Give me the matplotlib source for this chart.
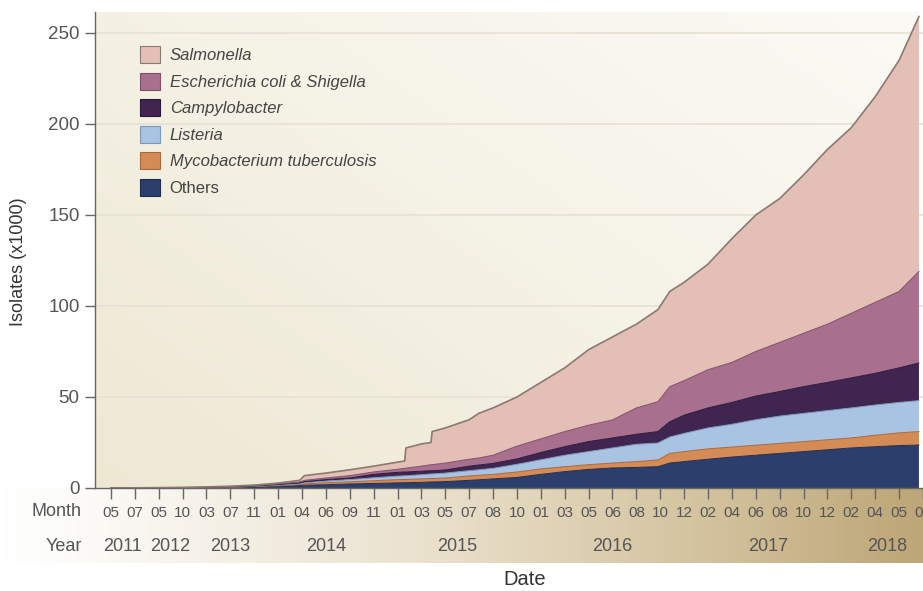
import numpy as np
import matplotlib
matplotlib.use("Agg")
import matplotlib.pyplot as plt
from matplotlib.patches import Patch
from matplotlib.colors import LinearSegmentedColormap

plt.rcParams['font.family'] = ['Liberation Sans', 'DejaVu Sans']

# position along the month axis (one unit = one labelled tick)
pos = [0, 1, 2, 3, 4, 5, 6, 7, 7.9, 8.1, 9, 10, 11, 12, 12.3, 12.35, 13, 13.4, 13.45,
       14, 15, 15.4, 16, 17, 18, 19, 20, 21, 22, 22.9, 23.4, 24, 25, 26, 27, 28, 29,
       30, 31, 32, 33, 33.83]

# isolates (x1000) per group
others = [0, 0.02, 0.05, 0.1, 0.2, 0.35, 0.6, 1.0, 1.4, 1.5, 1.8, 2.2, 2.5, 2.8, 2.9, 2.9,
          3.1, 3.3, 3.3, 3.5, 4.2, 4.5, 5.0, 5.8, 7.5, 9.0, 10.2, 11.0, 11.3, 11.7, 13.7,
          14.5, 15.8, 17.0, 18.0, 19.0, 20.0, 21.0, 22.0, 22.7, 23.3, 23.6]
myco = [0, 0.01, 0.02, 0.02, 0.05, 0.1, 0.15, 0.3, 0.4, 0.8, 1.1, 1.2, 1.5, 1.8, 1.8, 1.8,
        1.9, 1.9, 1.9, 2.0, 2.4, 2.5, 2.5, 3.0, 3.0, 2.7, 2.6, 2.7, 3.2, 3.7, 5.3,
        5.5, 5.7, 5.5, 5.5, 5.5, 5.5, 5.5, 5.5, 6.3, 7.0, 7.4]
listeria = [0, 0.01, 0.02, 0.03, 0.05, 0.1, 0.15, 0.3, 0.5, 0.6, 0.9, 1.2, 1.6, 1.9, 2.0, 2.0,
            2.3, 2.5, 2.5, 2.7, 2.9, 3.0, 3.3, 4.2, 5.0, 6.3, 7.2, 8.3, 9.5, 9.3, 9.0,
            10.0, 11.5, 12.5, 14.0, 15.0, 15.5, 16.0, 16.5, 16.6, 16.7, 17.0]
campy = [0, 0.01, 0.03, 0.05, 0.1, 0.15, 0.2, 0.3, 0.5, 0.6, 0.8, 0.9, 1.9, 2.1, 2.1, 2.1,
         1.9, 1.8, 1.8, 1.7, 2.5, 2.6, 2.7, 3.0, 4.0, 4.7, 5.5, 5.5, 5.5, 6.3, 8.4,
         10.0, 11.0, 12.0, 13.0, 13.5, 14.7, 15.5, 16.5, 17.4, 19.0, 20.7]
ecoli = [0, 0.01, 0.03, 0.05, 0.05, 0.1, 0.2, 0.3, 0.5, 0.7, 0.9, 1.3, 1.3, 1.7, 2.0, 2.1,
         2.8, 3.3, 3.3, 3.8, 3.8, 3.9, 4.5, 7.0, 7.5, 8.3, 9.0, 9.9, 14.5, 16.4, 19.3,
         19.0, 21.0, 22.0, 24.5, 27.0, 29.3, 32.0, 35.5, 39.0, 42.0, 50.3]
salmonella = [0, 0.04, 0.05, 0.1, 0.15, 0.2, 0.3, 0.5, 0.9, 2.6, 2.7, 3.2, 3.2, 3.9, 4.0, 11.1,
              12.2, 12.2, 18.2, 19.3, 21.7, 24.5, 26.0, 27.0, 31.0, 35.0, 41.5, 45.6, 46.0, 50.6, 52.3,
              54.0, 58.0, 68.0, 75.0, 79.0, 87.0, 96.0, 102.0, 113.0, 127.0, 140.0]

months = ['05', '07', '05', '10', '03', '07', '11', '01', '04', '06', '09', '11', '01', '03',
          '05', '07', '08', '10', '01', '03', '05', '06', '08', '10', '12', '02', '04', '06',
          '08', '10', '12', '02', '04', '05', '07']
years = ['2011', '2012', '2013', '2014', '2015', '2016', '2017', '2018']
year_span = [(0, 1), (2, 3), (4, 6), (7, 11), (12, 17), (18, 24), (25, 30), (31, 34)]

names = ['Others', 'Mycobacterium tuberculosis', 'Listeria', 'Campylobacter',
         'Escherichia coli & Shigella', 'Salmonella']
colors = ['#2c3f6c', '#d58b56', '#a9c3e3', '#3f2550', '#a86f8e', '#e4bfb6']
edges = ['#1f2d50', '#a8693c', '#7f98b8', '#2a1838', '#7d5068', '#8a7a72']

fig = plt.figure(figsize=(9.23, 5.91), dpi=100)

# tan band behind month/year rows
band = fig.add_axes([0, 0.047, 1, 0.128], zorder=0)
band_cmap = LinearSegmentedColormap.from_list(
    'band', [(0, '#ffffff'), (0.1, '#fbfaf6'), (0.45, '#ebe2cf'), (0.75, '#d4c4a0'), (1, '#bda677')])
g = np.linspace(0, 1, 256)[None, :]
band.imshow(np.repeat(g, 4, axis=0), aspect='auto', cmap=band_cmap, extent=[0, 1, 0, 1])
band.set_axis_off()

ax = fig.add_axes([0.1029, 0.1743, 0.8971, 0.8054], zorder=1)
xmin, xmax = -0.667, 33.83
ymax = 261.5

# plot area background, beige lower-left to off-white upper-right
bg_cmap = LinearSegmentedColormap.from_list('bg', ['#eee8d3', '#f5f2e6', '#fbfaf5'])
u = np.linspace(0, 1, 200)
xx, yy = np.meshgrid(u, u)
ax.imshow(0.6 * xx + 0.5 * yy, origin='lower', aspect='auto', cmap=bg_cmap,
          extent=[xmin, xmax, 0, ymax], zorder=0, vmin=0, vmax=1.1)

for yv in [50, 100, 150, 200, 250]:
    ax.axhline(yv, color='#e6e1d4', lw=1.2, zorder=0.5)

series = [others, myco, listeria, campy, ecoli, salmonella]
polys = ax.stackplot(pos, *series, colors=colors, zorder=2)
cum = np.cumsum(np.array(series), axis=0)
for i, p in enumerate(polys):
    p.set_edgecolor('none')
    ax.plot(pos, cum[i], color=edges[i], lw=1.2 if i == 5 else 0.7, zorder=3)

ax.set_xlim(xmin, xmax)
ax.set_ylim(0, ymax)
ax.set_yticks([0, 50, 100, 150, 200, 250])
ax.set_xticks(range(len(months)))
ax.set_xticklabels(months)
ax.tick_params(axis='y', direction='out', length=7, width=1, color='#666666',
               labelcolor='#555555', labelsize=13.5, pad=4)
ax.tick_params(axis='x', direction='out', length=8, width=1, color='#666666',
               labelcolor='#555555', labelsize=11, pad=5)
for s in ['top', 'right']:
    ax.spines[s].set_visible(False)
for s in ['left', 'bottom']:
    ax.spines[s].set_color('#666666')
    ax.spines[s].set_linewidth(1)

trans = ax.get_xaxis_transform()
for yr, (a, b) in zip(years, year_span):
    ax.text((a + b) / 2, -0.122, yr, transform=trans, ha='center', va='center',
            fontsize=13, color='#555555', clip_on=False)
ax.text(-0.016, -0.05, 'Month', transform=ax.transAxes, ha='right', va='center',
        fontsize=13, color='#555555')
ax.text(-0.016, -0.122, 'Year', transform=ax.transAxes, ha='right', va='center',
        fontsize=13, color='#555555')

fig.text(0.569, 0.019, 'Date', ha='center', va='center', fontsize=14.5, color='#333333')
fig.text(0.02, 0.557, 'Isolates (x1000)', ha='center', va='center', rotation=90,
         fontsize=13, color='#333333')

handles = [Patch(facecolor=colors[i], edgecolor=edges[i], lw=0.8, label=names[i])
           for i in range(5, -1, -1)]
leg = ax.legend(handles=handles, loc='upper left', bbox_to_anchor=(0.054, 0.928),
                frameon=False, fontsize=12, handlelength=1.2, handleheight=1.2,
                labelspacing=0.56, handletextpad=0.6, borderpad=0, borderaxespad=0)
for t in leg.get_texts():
    t.set_color('#444444')
    if t.get_text() != 'Others':
        t.set_style('italic')

fig.savefig('out.png', dpi=100, facecolor='white')
